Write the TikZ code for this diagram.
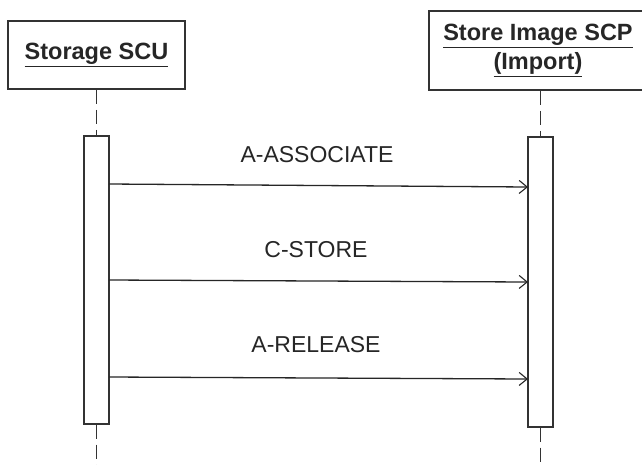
\documentclass[tikz,border=0pt]{standalone}
\usepackage{fontspec}
\setmainfont{Liberation Sans}
\usetikzlibrary{arrows.meta}
\begin{document}
\begin{tikzpicture}[x=1pt,y=-1pt,
  obj/.style={draw=black!80, line width=1.6pt, fill=white, inner sep=0pt, align=center,
              font=\bfseries\fontsize{23.5}{29}\selectfont, text=black!85},
  actbar/.style={draw=black!80, line width=1.3pt, fill=white, inner sep=0pt},
  life/.style={draw=black!80, line width=1.4pt, dash pattern=on 14pt off 6pt},
  msg/.style={draw=black!85, line width=1.3pt, -{Straight Barb[length=8pt,width=13pt,line width=1.1pt]}},
  lbl/.style={font=\fontsize{23}{27}\selectfont, text=black!85, inner sep=0pt}]
\clip (0,0) rectangle (642,464);
\fill[white] (0,0) rectangle (642,464);
% objects
\node[obj, minimum width=177pt, minimum height=68pt] (scu) at (96.5,55) {\underline{Storage SCU}};
\node[obj, minimum width=218pt, minimum height=79pt] (scp) at (538,50.5)
  {\underline{Store Image SCP}\\\underline{(Import)}};
% activation bars
\node[actbar, minimum width=25pt, minimum height=288pt] (barL) at (96.5,280) {};
\node[actbar, minimum width=25pt, minimum height=290pt] (barR) at (540.5,282) {};
% lifeline ends
\coordinate (endL) at (96.5,470);
\coordinate (endR) at (540.5,470);
\draw[life] (scu.south) -- (barL.north);
\draw[life] (barL.south) -- (endL);
\draw[life] (scp.south -| barR.north) -- (barR.north);
\draw[life] (barR.south) -- (endR);
% messages
\coordinate (m1s) at (109,184); \coordinate (m1e) at (528,187);
\coordinate (m2s) at (109,280); \coordinate (m2e) at (528,282);
\coordinate (m3s) at (109,377); \coordinate (m3e) at (528,379);
\draw[msg] (m1s) -- (m1e);
\draw[msg] (m2s) -- (m2e);
\draw[msg] (m3s) -- (m3e);
\node[lbl] (l1) at (317,155) {A-ASSOCIATE};
\node[lbl] (l2) at (316,250) {C-STORE};
\node[lbl] (l3) at (316,345) {A-RELEASE};
\end{tikzpicture}
\end{document}
